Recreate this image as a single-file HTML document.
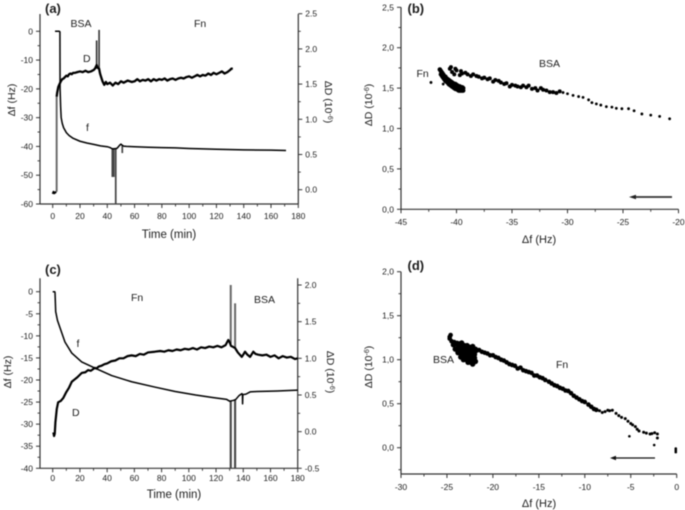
<!DOCTYPE html>
<html>
<head>
<meta charset="utf-8">
<title>QCM-D charts</title>
<style>
html,body{margin:0;padding:0;background:#fff;}
svg{display:block;filter:blur(0.5px);}
text{font-family:"Liberation Sans",sans-serif;fill:#1c1c1c;}
</style>
</head>
<body>
<svg id="figure" width="685" height="510" viewBox="0 0 685 510" xmlns="http://www.w3.org/2000/svg">
<rect width="685" height="510" fill="#fff"/>

<text x="45" y="13" font-size="13" font-weight="bold">(a)</text>
<text x="70.5" y="27" font-size="10.5">BSA</text>
<text x="194" y="27" font-size="10.5">Fn</text>
<text x="83" y="62" font-size="10.5">D</text>
<text x="86" y="131" font-size="10.5">f</text>
<text x="169" y="238" font-size="11.5" text-anchor="middle">Time (min)</text>
<text transform="translate(15,100) rotate(-90)" font-size="10.5" text-anchor="middle">Δf (Hz)</text>
<text transform="translate(325,102) rotate(90)" font-size="10.5" text-anchor="middle">ΔD (10<tspan font-size="7" dy="-3">-6</tspan><tspan dy="3">)</tspan></text>

<text x="407.5" y="13" font-size="13" font-weight="bold">(b)</text>
<text x="539" y="67" font-size="10.5">BSA</text>
<text x="416.5" y="77" font-size="10.5">Fn</text>
<text x="539" y="243" font-size="11" text-anchor="middle">Δf (Hz)</text>
<text transform="translate(372,105) rotate(-90)" font-size="10.5" text-anchor="middle">ΔD (10<tspan font-size="7" dy="-3">-6</tspan><tspan dy="3">)</tspan></text>
<line x1="672" y1="197" x2="634" y2="197" stroke="#333" stroke-width="1.8"/>
<polygon points="629,197 636,194.8 636,199.2" fill="#222"/>

<text x="45" y="274" font-size="13" font-weight="bold">(c)</text>
<text x="131" y="301" font-size="10.5">Fn</text>
<text x="254" y="303" font-size="10.5">BSA</text>
<text x="76.5" y="347" font-size="10.5">f</text>
<text x="72" y="416" font-size="10.5">D</text>
<text x="174" y="498" font-size="11.5" text-anchor="middle">Time (min)</text>
<text transform="translate(11,372) rotate(-90)" font-size="10.5" text-anchor="middle">Δf (Hz)</text>
<text transform="translate(327,372) rotate(90)" font-size="10.5" text-anchor="middle">ΔD (10<tspan font-size="7" dy="-3">-6</tspan><tspan dy="3">)</tspan></text>

<text x="407.5" y="270" font-size="13" font-weight="bold">(d)</text>
<text x="433" y="363" font-size="10.5">BSA</text>
<text x="556" y="368" font-size="10.5">Fn</text>
<text x="539" y="507" font-size="11" text-anchor="middle">Δf (Hz)</text>
<text transform="translate(372,367) rotate(-90)" font-size="10.5" text-anchor="middle">ΔD (10<tspan font-size="7" dy="-3">-6</tspan><tspan dy="3">)</tspan></text>
<line x1="655" y1="458" x2="614" y2="458" stroke="#111" stroke-width="1.3"/>
<polygon points="610,458 616,455.8 616,460.2" fill="#111"/>
</svg>
<script>
/* ---------- panel (a) data ---------- */
const aTimeTicks = [0,20,40,60,80,100,120,140,160,180];
const aTimeMinor = [10,30,50,70,90,110,130,150,170];
const aFreqTicks = [0,-10,-20,-30,-40,-50,-60];
const aFreqMinor = [-5,-15,-25,-35,-45,-55];
const aDissTicks = [0,0.5,1,1.5,2,2.5];
const aDissMinor = [0.25,0.75,1.25,1.75,2.25];
const aFTime = [1.7,4.8,5.3,5.4,5.8,6.2,7,8,10,12,15,20,25,30,35,40,42,43.6,45,46.7,47,48,49,50,51,52,54,60,70,80,90,100,120,140,160,171];
const aFVals = [0,0,-0.2,-20,-26,-30,-32,-33.5,-35.2,-36.2,-37.2,-38.2,-38.8,-39.3,-39.8,-40.1,-40.4,-40.8,-40.8,-40.7,-40.7,-40.2,-39.6,-39.2,-39.6,-39.9,-40,-40.1,-40.3,-40.4,-40.5,-40.7,-41,-41.2,-41.3,-41.4];
const aFSpikeTime = [43.7,44.8,46.2,51];
const aFSpikeBase = [-40.8,-40.8,-40.8,-39.6];
const aFSpikeTip = [-50.6,-50.6,-60,-42.3];
const aDStartTime = [0,0.6,1.2,1.8,2.6];
const aDStartVals = [-0.06,-0.03,-0.05,-0.04,-0.03];
const aDRiseTime = [2.9];
const aDRiseBase = [-0.03];
const aDRiseTip = [1.32];
const aDTime = [2.9,3.3,4.1,5,6,7,8,9,10,11,12,13,14,15,16.4,18,20,22,24,26,28,30,31,32.2,33,34,34.7,35.5,36.5,37.8,39,40,42,44,46,48,50,52,55,58,60,62,64,66,68,70,72,74,76,78,80,82,84,86,88,90,92,94,96,98,100,102,104,106,108,110,112,114,116,118,120,122,124,126,128,130,131,132];
const aDVals = [1.32,1.38,1.46,1.5,1.54,1.57,1.58,1.6,1.62,1.61,1.64,1.65,1.64,1.66,1.66,1.67,1.68,1.67,1.69,1.67,1.68,1.7,1.72,1.77,1.73,1.72,1.65,1.6,1.54,1.49,1.53,1.5,1.52,1.48,1.52,1.5,1.54,1.52,1.55,1.53,1.54,1.57,1.54,1.56,1.55,1.57,1.54,1.57,1.55,1.57,1.56,1.58,1.55,1.57,1.58,1.56,1.58,1.59,1.58,1.6,1.61,1.59,1.61,1.63,1.61,1.63,1.62,1.65,1.63,1.66,1.64,1.66,1.68,1.65,1.67,1.7,1.72,1.72];
const aDSpikeTime = [32.2,34];
const aDSpikeBase = [1.72,1.72];
const aDSpikeTip = [2.12,2.27];

/* ---------- panel (b) data ---------- */
const bFreqTicks = [-45,-40,-35,-30,-25,-20];
const bFreqMinor = [-42.5,-37.5,-32.5,-27.5,-22.5];
const bDissTicks = [0,0.5,1,1.5,2,2.5];
const bDissMinor = [0.25,0.75,1.25,1.75,2.25];
const bSparseFreq = [-20.8,-21.7,-22.5,-23.3,-24,-24.5,-25.1,-25.6,-26,-26.5,-27,-27.4,-27.8,-28.1,-28.6,-29,-29.5,-30,-30.4,-42.3,-41.2];
const bSparseVals = [1.12,1.15,1.165,1.18,1.22,1.245,1.245,1.25,1.265,1.27,1.29,1.305,1.32,1.355,1.385,1.395,1.41,1.43,1.445,1.57,1.55];
const bBsaFreq = [-30.7,-31,-31.3,-31.6,-31.9,-32.2,-32.4,-32.7,-32.9,-33.2,-33.5,-33.7,-34,-34.2,-34.5,-34.7,-35,-35.2,-35.5,-35.7,-36,-36.2,-36.5,-36.7,-37,-37.2,-37.5,-37.7,-38,-38.2,-38.5,-38.7,-39,-39.2,-39.5,-39.7,-40,-40.2,-40.4,-40.5,-40.6,-39.6,-40.1];
const bBsaVals = [1.46,1.44,1.45,1.45,1.47,1.48,1.5,1.47,1.5,1.49,1.53,1.51,1.53,1.51,1.52,1.53,1.54,1.52,1.56,1.55,1.57,1.59,1.6,1.58,1.62,1.61,1.63,1.62,1.64,1.65,1.67,1.65,1.67,1.69,1.68,1.66,1.72,1.67,1.7,1.76,1.74,1.71,1.74];
const bFnFreq = [-41.5,-41.4,-41.3,-41.2,-41.1,-41,-40.9,-40.8,-40.7,-40.6,-40.5,-40.4,-40.3,-40.2,-40.1,-40,-39.9,-39.8,-39.7,-39.6,-39.5,-39.4,-41.4,-41.3,-41.2,-41.1,-41,-40.9,-40.8,-40.7,-40.6,-40.5,-40.4,-40.3,-40.2,-40.1,-40,-39.9,-39.8,-39.7,-39.6,-39.5,-39.4,-40.6,-40.3,-40,-39.8,-39.6,-40.8,-40.5,-40.2];
const bFnVals = [1.73,1.71,1.69,1.67,1.65,1.64,1.62,1.61,1.6,1.59,1.58,1.57,1.56,1.55,1.55,1.54,1.53,1.52,1.52,1.51,1.51,1.5,1.67,1.65,1.63,1.61,1.59,1.58,1.57,1.55,1.54,1.53,1.52,1.51,1.5,1.49,1.49,1.48,1.47,1.47,1.47,1.47,1.47,1.56,1.53,1.51,1.5,1.49,1.59,1.55,1.52];

/* ---------- panel (c) data ---------- */
const cTimeTicks = [0,20,40,60,80,100,120,140,160,180];
const cTimeMinor = [10,30,50,70,90,110,130,150,170];
const cFreqTicks = [0,-5,-10,-15,-20,-25,-30,-35,-40];
const cFreqMinor = [-2.5,-7.5,-12.5,-17.5,-22.5,-27.5,-32.5,-37.5];
const cDissTicks = [-0.5,0,0.5,1,1.5,2];
const cDissMinor = [-0.25,0.25,0.75,1.25,1.75];
const cFTime = [0,1.5,1.7,2.2,3.5,5.4,9,14,21.3,31,43.3,58,75,90,105,118,127.8,130,133,134.5,137,139,139.4,139.5,139.7,140,142,145,150,165,180];
const cFVals = [0,0,-0.2,-4.5,-6.5,-8.2,-11.4,-13.9,-15.9,-17.3,-19,-20.4,-21.6,-22.6,-23.4,-24,-24.4,-24.8,-24.6,-24.4,-23.5,-23.1,-23.2,-25.4,-23.3,-23.3,-23.2,-22.7,-22.6,-22.5,-22.3];
const cFSpikeTime = [130.8,134];
const cFSpikeBase = [-24.8,-24.5];
const cFSpikeTip = [-40,-40];
const cDTime = [0.5,1,1.5,2,3,4,5,6,7.8,10,12,14,16,18,21.3,24,26,28,31,32,34,36,38,40,43,46,49,52,55,58,61,64,67,70,75,79,82,85,88,91,94,97,100,103,106,109,112,115,118,121,124,127,129,130,131,132,134,135,136,138.9,140,141.3,143,145,147.4,149,151,154,157,160,163,166,169,172,175,178,180];
const cDVals = [-0.01,-0.06,-0.03,0.13,0.31,0.4,0.41,0.42,0.46,0.54,0.6,0.68,0.71,0.74,0.8,0.81,0.84,0.83,0.87,0.86,0.89,0.9,0.92,0.93,0.96,0.97,1.0,1.0,1.03,1.04,1.03,1.06,1.05,1.08,1.09,1.1,1.09,1.11,1.1,1.12,1.11,1.13,1.12,1.14,1.12,1.15,1.14,1.16,1.15,1.17,1.15,1.18,1.25,1.22,1.17,1.16,1.14,1.11,1.08,1.02,1.05,1.09,1.05,1.02,1.09,1.06,1.05,1.04,1.05,1.02,1.04,1.0,1.03,1.01,1.02,0.99,1.0];
const cDSpikeTime = [130.8,134];
const cDSpikeBase = [1.2,1.14];
const cDSpikeTip = [2.0,1.75];

/* ---------- panel (d) data ---------- */
const dFreqTicks = [-30,-25,-20,-15,-10,-5,0];
const dFreqMinor = [-27.5,-22.5,-17.5,-12.5,-7.5,-2.5];
const dDissTicks = [0,0.5,1,1.5,2];
const dDissMinor = [-0.25,0.25,0.75,1.25,1.75];
const dThinFreq = [-2.1,-2.1,-2.4,-2.7,-2.9,-3.3,-3.6,-4.1,-4.3,-4.5,-4.8,-5,-5.3,-5.6,-6,-6.3,-6.6,-7,-7.3,-7.5,-7.8,-8.1,-8.4];
const dThinVals = [0.155,0.11,0.17,0.16,0.155,0.165,0.175,0.19,0.21,0.24,0.26,0.275,0.3,0.33,0.345,0.365,0.39,0.425,0.42,0.425,0.41,0.4,0.42];
const dFnFreq = [-8.75,-9,-9.3,-9.6,-10,-10.3,-10.6,-10.9,-11.2,-11.5,-11.8,-12.1,-12.4,-12.7,-13,-13.3,-13.6,-13.9,-14.3,-14.6,-14.9,-15.2,-15.5,-15.8,-16.1,-16.4,-16.7,-17,-17.3,-17.6,-17.9,-18.2,-18.5,-18.8,-19.1,-19.4,-19.7,-20,-20.3,-20.6,-20.9,-21.2,-21.5,-21.8,-22.1,-22.4,-22.7,-23,-23.3,-23.6,-23.9,-24.2,-24.5,-24.7,-24.7,-24.6];
const dFnVals = [0.43,0.44,0.465,0.49,0.52,0.53,0.55,0.57,0.59,0.62,0.645,0.65,0.67,0.68,0.7,0.71,0.73,0.75,0.77,0.79,0.8,0.82,0.82,0.85,0.86,0.87,0.88,0.91,0.9,0.93,0.94,0.95,0.97,0.99,1.0,1.02,1.03,1.05,1.05,1.07,1.08,1.09,1.11,1.1,1.12,1.13,1.14,1.15,1.17,1.17,1.19,1.2,1.21,1.26,1.24,1.28];
const dBsaFreq = [-24.3,-24,-23.7,-23.4,-23.1,-22.8,-22.5,-22.2,-21.9,-24.1,-23.8,-23.5,-23.2,-22.9,-22.6,-22.3,-22,-23.8,-23.5,-23.2,-22.9,-22.6,-22.3,-22,-23.5,-23.2,-22.9,-22.6,-22.3,-22,-23.2,-22.9,-22.6,-22.3,-22.1,-22.7,-22.4,-22.2,-21.9];
const dBsaVals = [1.17,1.18,1.18,1.19,1.16,1.16,1.14,1.15,1.12,1.12,1.13,1.13,1.12,1.12,1.12,1.11,1.1,1.08,1.08,1.08,1.07,1.07,1.07,1.06,1.03,1.04,1.04,1.03,1.03,1.02,1.0,1.0,1.0,0.99,0.99,0.97,0.97,0.95,0.98];
const dOutlierFreq = [-5.15,-2.45,-0.1,-0.1,-0.1];
const dOutlierVals = [0.13,0.03,-0.01,-0.03,-0.05];

/* ---------- drawing helpers ---------- */
const NS = 'http://www.w3.org/2000/svg';
const fig = document.getElementById('figure');
function scale(d0, d1, r0, r1) { return v => r0 + (v - d0) * (r1 - r0) / (d1 - d0); }
function add(tag, attrs, name, text) {
  const el = document.createElementNS(NS, tag);
  for (const k in attrs) el.setAttribute(k, attrs[k]);
  
  
  if (text !== undefined) el.textContent = text;
  fig.appendChild(el);
  return el;
}
const AX = '#333';
function axisLine(x1, y1, x2, y2, name) {
  add('line', {x1, y1, x2, y2, stroke: AX, 'stroke-width': 1.2}, name);
}
function xAxis(sc, y, x0, x1, ticks, minor, fmt, baseline, name) {
  axisLine(x0, y, x1, y, name + '-line');
  minor.forEach(v => add('line', {x1: sc(v), x2: sc(v), y1: y, y2: y + 2.5, stroke: AX, 'stroke-width': 0.9}, name + '-minor-tick'));
  ticks.forEach(v => {
    add('line', {x1: sc(v), x2: sc(v), y1: y, y2: y + 4, stroke: AX, 'stroke-width': 1}, name + '-tick');
    add('text', {x: sc(v), y: baseline, 'font-size': 8.5, 'text-anchor': 'middle'}, name + '-tick-label', fmt(v));
  });
}
function yAxis(sc, x, y0, y1, ticks, minor, fmt, dir, name) {
  axisLine(x, y0, x, y1, name + '-line');
  minor.forEach(v => add('line', {x1: x, x2: x + dir * 2.5, y1: sc(v), y2: sc(v), stroke: AX, 'stroke-width': 0.9}, name + '-minor-tick'));
  ticks.forEach(v => {
    add('line', {x1: x, x2: x + dir * 4, y1: sc(v), y2: sc(v), stroke: AX, 'stroke-width': 1}, name + '-tick');
    add('text', {x: x + dir * 7, y: sc(v) + 3, 'font-size': 8.5, 'text-anchor': dir < 0 ? 'end' : 'start'}, name + '-tick-label', fmt(v));
  });
}
function line(xs, ys, sx, sy, width, name) {
  const pts = xs.map((x, i) => sx(x).toFixed(2) + ',' + sy(ys[i]).toFixed(2)).join(' ');
  add('polyline', {points: pts, fill: 'none', stroke: '#000', 'stroke-width': width, 'stroke-linejoin': 'round'}, name);
}
function spikes(ts, bases, tips, sx, sy, color, width, name) {
  ts.forEach((t, i) => add('line', {x1: sx(t), x2: sx(t), y1: sy(bases[i]), y2: sy(tips[i]), stroke: color, 'stroke-width': width}, name));
}
function dots(xs, ys, sx, sy, r, name) {
  xs.forEach((x, i) => add('circle', {cx: sx(x), cy: sy(ys[i]), r, fill: '#000'}, name));
}
const plain = v => String(v);
const dot1 = v => v.toFixed(1);
const comma1 = v => v.toFixed(1).replace('.', ',');

/* ---------- panel (a) ---------- */
const ax = scale(0, 180, 52.7, 298.3);
const ay = scale(0, -60, 31.3, 204);
const ad = scale(0, 2.5, 189.7, 13.7);
xAxis(ax, 204, 40, 298.3, aTimeTicks, aTimeMinor, plain, 219, 'panel-a-x-axis');
yAxis(ay, 40, 14, 204, aFreqTicks, aFreqMinor, plain, -1, 'panel-a-left-axis');
yAxis(ad, 298.3, 14, 204, aDissTicks, aDissMinor, dot1, 1, 'panel-a-right-axis');
spikes(aFSpikeTime, aFSpikeBase, aFSpikeTip, ax, ay, '#444', 1.7, 'panel-a-frequency-spike');
spikes(aDRiseTime, aDRiseBase, aDRiseTip, ax, ad, '#666', 1.9, 'panel-a-dissipation-rise');
spikes(aDSpikeTime, aDSpikeBase, aDSpikeTip, ax, ad, '#333', 1.6, 'panel-a-dissipation-spike');
line(aFTime, aFVals, ax, ay, 1.5, 'panel-a-frequency-line');
line(aDStartTime, aDStartVals, ax, ad, 2, 'panel-a-dissipation-start');
line(aDTime, aDVals, ax, ad, 2.3, 'panel-a-dissipation-line');

/* ---------- panel (b) ---------- */
const bx = scale(-45, -20, 401, 678.5);
const by = scale(0, 2.5, 209.3, 7.3);
xAxis(bx, 209.3, 401, 678.5, bFreqTicks, bFreqMinor, plain, 225, 'panel-b-x-axis');
yAxis(by, 401, 7.3, 209.3, bDissTicks, bDissMinor, comma1, -1, 'panel-b-y-axis');
dots(bSparseFreq, bSparseVals, bx, by, 1.4, 'panel-b-sparse-point');
dots(bBsaFreq, bBsaVals, bx, by, 2, 'panel-b-bsa-point');
dots(bFnFreq, bFnVals, bx, by, 2.3, 'panel-b-fn-point');

/* ---------- panel (c) ---------- */
const cx = scale(0, 180, 52.7, 297.7);
const cy = scale(0, -40, 291.7, 468.3);
const cd = scale(-0.5, 2, 468.3, 285);
xAxis(cx, 468.3, 40, 297.7, cTimeTicks, cTimeMinor, plain, 481, 'panel-c-x-axis');
yAxis(cy, 40, 278.3, 468.3, cFreqTicks, cFreqMinor, plain, -1, 'panel-c-left-axis');
yAxis(cd, 297.7, 278.3, 468.3, cDissTicks, cDissMinor, dot1, 1, 'panel-c-right-axis');
spikes(cFSpikeTime, cFSpikeBase, cFSpikeTip, cx, cy, '#444', 2.1, 'panel-c-frequency-spike');
spikes(cDSpikeTime, cDSpikeBase, cDSpikeTip, cx, cd, '#666', 2, 'panel-c-dissipation-spike');
line(cFTime, cFVals, cx, cy, 1.5, 'panel-c-frequency-line');
line(cDTime, cDVals, cx, cd, 2.2, 'panel-c-dissipation-line');

/* ---------- panel (d) ---------- */
const dx = scale(-30, 0, 401, 676.7);
const dy = scale(0, 2, 447.7, 271.7);
xAxis(dx, 474, 401, 676.7, dFreqTicks, dFreqMinor, plain, 490, 'panel-d-x-axis');
yAxis(dy, 401, 271.7, 474, dDissTicks, dDissMinor, comma1, -1, 'panel-d-y-axis');
dots(dThinFreq, dThinVals, dx, dy, 1.5, 'panel-d-fn-sparse-point');
dots(dFnFreq, dFnVals, dx, dy, 2.3, 'panel-d-fn-point');
dots(dBsaFreq, dBsaVals, dx, dy, 2.7, 'panel-d-bsa-point');
dots(dOutlierFreq, dOutlierVals, dx, dy, 1.3, 'panel-d-outlier-point');
</script>
</body>
</html>
